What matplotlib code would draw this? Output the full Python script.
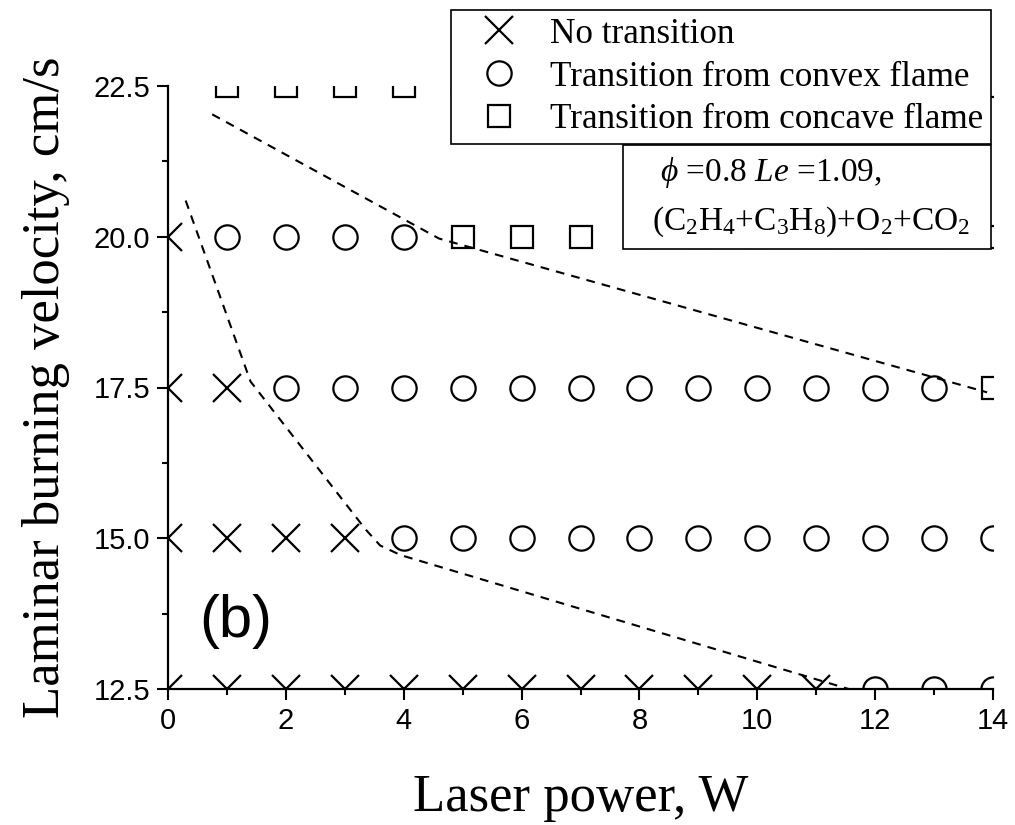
import matplotlib
matplotlib.use("Agg")
import matplotlib.pyplot as plt
from matplotlib.lines import Line2D
from matplotlib.patches import Rectangle

# ---- data -------------------------------------------------------------
no_transition_power = [0, 1, 2, 3, 4, 5, 6, 7, 8, 9, 10, 11,
                       0, 1, 2, 3,
                       0, 1,
                       0]
no_transition_velocity = [12.5, 12.5, 12.5, 12.5, 12.5, 12.5, 12.5, 12.5, 12.5, 12.5, 12.5, 12.5,
                          15.0, 15.0, 15.0, 15.0,
                          17.5, 17.5,
                          20.0]

convex_power = [12, 13, 14,
                4, 5, 6, 7, 8, 9, 10, 11, 12, 13, 14,
                2, 3, 4, 5, 6, 7, 8, 9, 10, 11, 12, 13,
                1, 2, 3, 4]
convex_velocity = [12.5, 12.5, 12.5,
                   15.0, 15.0, 15.0, 15.0, 15.0, 15.0, 15.0, 15.0, 15.0, 15.0, 15.0,
                   17.5, 17.5, 17.5, 17.5, 17.5, 17.5, 17.5, 17.5, 17.5, 17.5, 17.5, 17.5,
                   20.0, 20.0, 20.0, 20.0]

concave_power = [14,
                 5, 6, 7, 8, 9, 10, 11, 12, 13, 14,
                 1, 2, 3, 4, 5, 6, 7, 8, 9, 10, 11, 12, 13, 14]
concave_velocity = [17.5,
                    20.0, 20.0, 20.0, 20.0, 20.0, 20.0, 20.0, 20.0, 20.0, 20.0,
                    22.5, 22.5, 22.5, 22.5, 22.5, 22.5, 22.5, 22.5, 22.5, 22.5, 22.5, 22.5, 22.5, 22.5]

# boundary between convex and concave transitions
upper_boundary_power = [0.75, 4.6, 13.9]
upper_boundary_velocity = [22.03, 19.97, 17.42]

# boundary between no transition and transition
lower_boundary_power = [0.3, 1.4, 3.35, 3.6, 3.95, 11.55]
lower_boundary_velocity = [20.6, 17.6, 15.15, 14.88, 14.72, 12.5]

x_ticks = [0, 2, 4, 6, 8, 10, 12, 14]
y_ticks = [12.5, 15.0, 17.5, 20.0, 22.5]

legend_labels = ["No transition", "Transition from convex flame",
                 "Transition from concave flame"]

# ---- style ------------------------------------------------------------
plt.rcParams["mathtext.fontset"] = "custom"
plt.rcParams["mathtext.rm"] = "Liberation Serif"
plt.rcParams["mathtext.it"] = "Liberation Serif:italic"
plt.rcParams["mathtext.bf"] = "Liberation Serif:bold"

SERIF = ["Liberation Serif", "DejaVu Serif"]
SANS = ["Liberation Sans", "DejaVu Sans"]

W, H = 1015, 825
fig = plt.figure(figsize=(W / 100, H / 100), dpi=100)
ax = fig.add_axes([168 / W, 1 - 689 / H, 825 / W, 603 / H])

mew = 1.6
ax.plot(no_transition_power, no_transition_velocity, ls="none", marker="x",
        ms=19.5, mew=mew, color="black", zorder=3)
ax.plot(convex_power, convex_velocity, ls="none", marker="o",
        ms=17.5, mew=mew, mfc="none", mec="black", zorder=3)
ax.plot(concave_power, concave_velocity, ls="none", marker="s",
        ms=15.5, mew=mew, mfc="none", mec="black", zorder=3)

ax.plot(upper_boundary_power, upper_boundary_velocity, color="black",
        lw=1.5, dashes=(4.2, 3.4), zorder=2)
ax.plot(lower_boundary_power, lower_boundary_velocity, color="black",
        lw=1.5, dashes=(4.2, 3.4), zorder=2)

ax.set_xlim(0, 14)
ax.set_ylim(12.5, 22.5)
ax.set_xticks(x_ticks)
ax.set_xticks([1, 3, 5, 7, 9, 11, 13], minor=True)
ax.set_yticks(y_ticks)
ax.set_yticks([13.75, 16.25, 18.75, 21.25], minor=True)
ax.set_yticklabels([f"{v:.1f}" for v in y_ticks])

for s in ("top", "right"):
    ax.spines[s].set_visible(False)
for s in ("left", "bottom"):
    ax.spines[s].set_linewidth(1.6)

ax.tick_params(which="major", direction="out", length=8, width=1.5,
               labelsize=21, pad=5)
ax.tick_params(which="minor", direction="out", length=4.5, width=1.5)
for lab in ax.get_xticklabels() + ax.get_yticklabels():
    lab.set_family(SANS)

ax.set_xlabel("Laser power, W", fontsize=38, family=SERIF)
ax.set_ylabel("Laminar burning velocity, cm/s", fontsize=38, family=SERIF)
ax.xaxis.set_label_coords(0.5, -(811 - 689) / 603)
ax.xaxis.label.set_va("baseline")
ax.yaxis.set_label_coords(-(168 - 46) / 825, 0.5)
ax.yaxis.label.set_va("center")

ax.text(1.15, 13.62, "(b)", fontsize=43, family=SANS,
        ha="center", va="center")

# legend
handles = [
    Line2D([], [], ls="none", marker="x", ms=19.5, mew=mew, color="black"),
    Line2D([], [], ls="none", marker="o", ms=17.5, mew=mew, mfc="none", mec="black"),
    Line2D([], [], ls="none", marker="s", ms=15.5, mew=mew, mfc="none", mec="black"),
]
leg = fig.legend(handles, legend_labels, loc="upper left",
                 bbox_to_anchor=(451 / W, 1 - 10 / H),
                 prop={"family": SERIF, "size": 25.3},
                 frameon=True, fancybox=False, shadow=False,
                 borderpad=0.22, handlelength=2.28, handletextpad=0.33,
                 labelspacing=0.28, borderaxespad=0.0)
leg.get_frame().set_edgecolor("black")
leg.get_frame().set_linewidth(1.2)
leg.get_frame().set_alpha(1.0)
leg.set_zorder(10)

# condition box
fig.patches.append(Rectangle((623 / W, 1 - 249 / H), (991 - 623) / W, (249 - 145) / H,
                             transform=fig.transFigure, facecolor="white",
                             edgecolor="black", linewidth=1.2, zorder=9))
fig.text(660 / W, 1 - 172 / H, r"$\phi$ =0.8 $Le$ =1.09,", fontsize=24,
         family=SERIF, ha="left", va="center", zorder=11)
fig.text(652 / W, 1 - 222 / H, r"(C$_2$H$_4$+C$_3$H$_8$)+O$_2$+CO$_2$", fontsize=24,
         family=SERIF, ha="left", va="center", zorder=11)

fig.savefig("out.png", dpi=100)
